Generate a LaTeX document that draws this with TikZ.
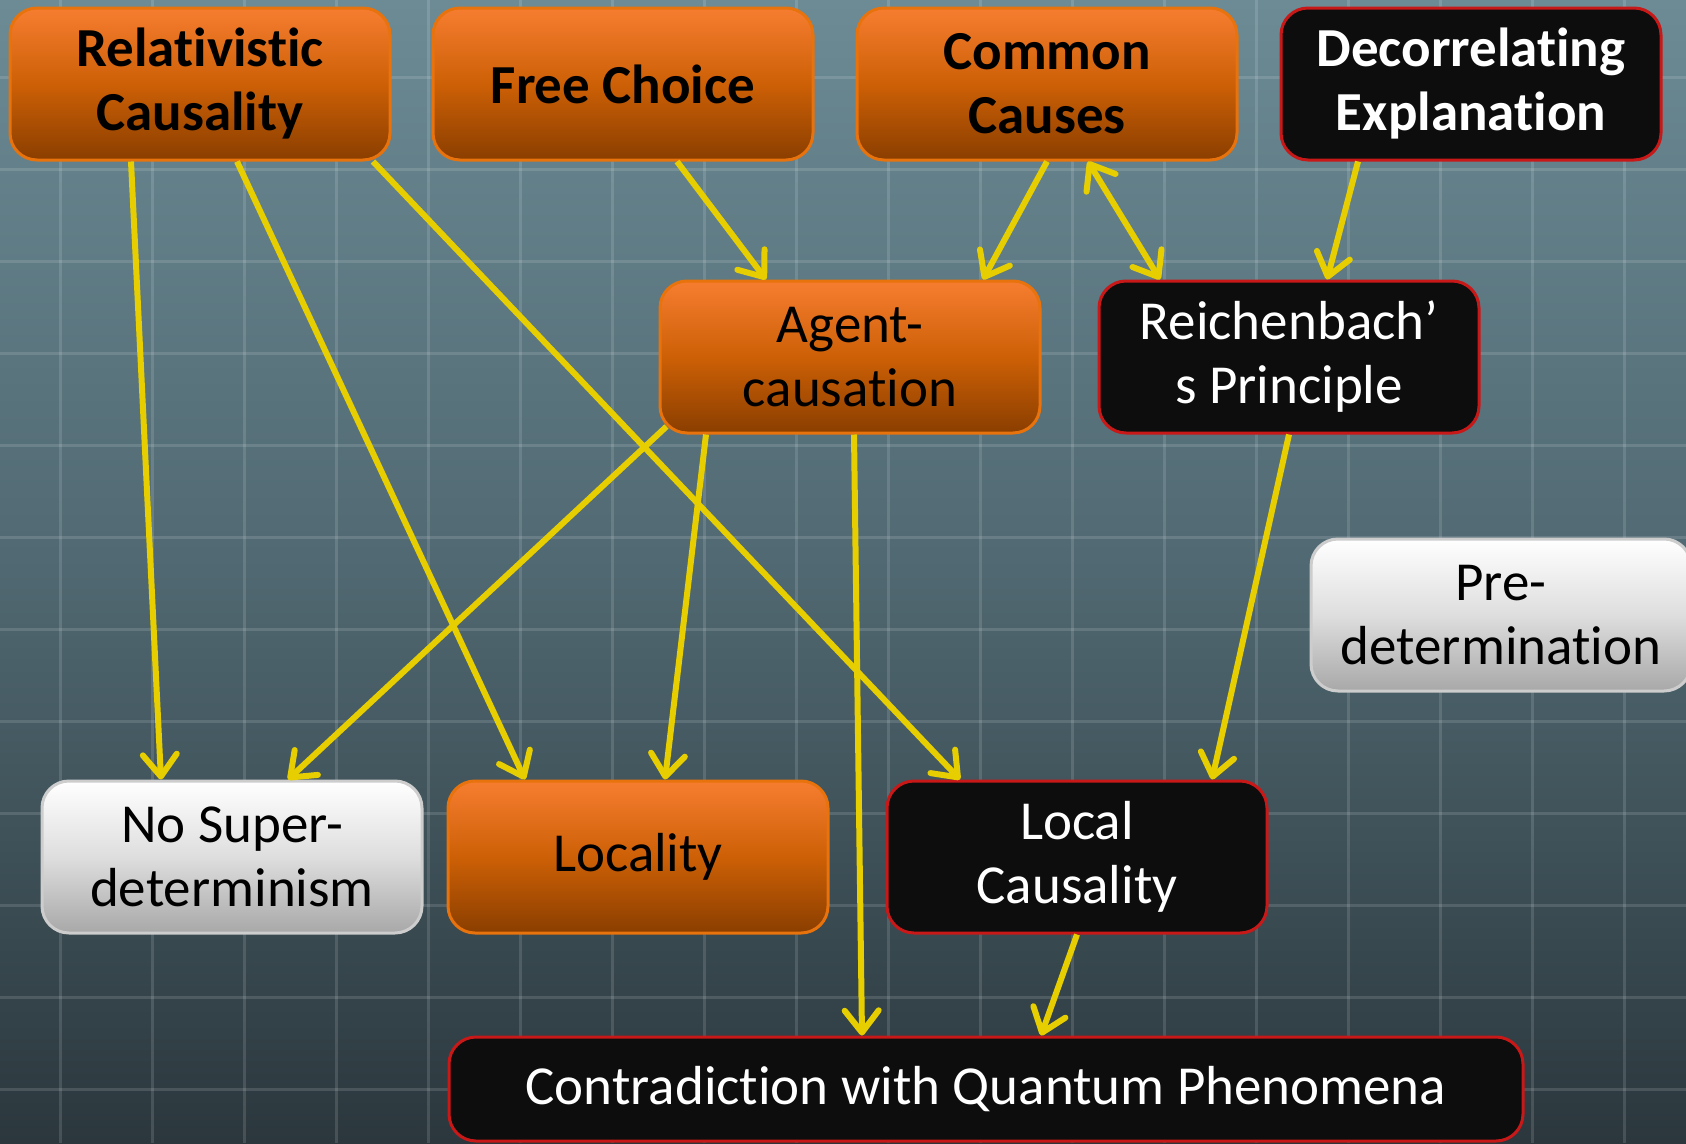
\documentclass[tikz,border=0pt]{standalone}
\usepackage{fontspec}
\setmainfont[Ligatures={NoCommon,NoContextual}]{Carlito}
\usetikzlibrary{arrows.meta}

\definecolor{bgtop}{RGB}{108,139,149}
\definecolor{bgmid}{RGB}{80,104,113}
\definecolor{bgbot}{RGB}{43,55,61}
\definecolor{otop}{RGB}{246,125,48}
\definecolor{omid}{RGB}{205,96,6}
\definecolor{obot}{RGB}{138,62,0}
\definecolor{oborder}{RGB}{232,114,12}
\definecolor{nearblack}{RGB}{13,13,13}
\definecolor{rborder}{RGB}{200,24,24}
\definecolor{wmid}{RGB}{222,222,222}
\definecolor{wbot}{RGB}{168,168,168}
\definecolor{wborder}{RGB}{205,205,205}
\definecolor{arrowyellow}{RGB}{230,206,0}

\tikzset{
  ybarb/.tip={Straight Barb[length=22pt,width=34pt,round]},
  gridline/.style={white, opacity=0.13, line width=3pt},
  box/.style={rounded corners=27pt, minimum width=380pt, minimum height=152pt,
    align=center, line width=3pt, inner sep=0pt,
    font=\fontsize{55}{64}\selectfont},
  heavy/.style={font=\fontsize{55}{64}\selectfont\bfseries},
  orangebox/.style={box, draw=oborder, top color=otop, bottom color=obot, middle color=omid},
  blackbox/.style={box, draw=rborder, fill=nearblack, text=white},
  whitebox/.style={box, draw=wborder, top color=white, bottom color=wbot, middle color=wmid},
  conn/.style={draw=arrowyellow, line width=6pt, -ybarb},
  twoway/.style={draw=arrowyellow, line width=6pt, ybarb-ybarb}
}

\begin{document}
\begin{tikzpicture}[x=1pt, y=-1pt]
  \useasboundingbox (0,0) rectangle (1686,1143);

  % backdrop: vertical gradient with a faint square grid
  \shade[top color=bgtop, bottom color=bgbot, middle color=bgmid] (0,0) rectangle (1686,1143);
  \foreach \gx in {60,152,...,1624} \draw[gridline] (\gx,0) -- (\gx,1143);
  \foreach \gy in {77,169,...,1089} \draw[gridline] (0,\gy) -- (1686,\gy);

  % top row
  \node[orangebox, heavy] (rc) at (200,84)  {Relativistic\\Causality};
  \node[orangebox, heavy] (fc) at (623,84)  {Free Choice};
  \node[orangebox, heavy] (cc) at (1047,84) {Common\\Causes};
  \node[blackbox, heavy]  (de) at (1471,84) {Decorrelating\\Explanation};

  % middle row
  \node[orangebox] (ag) at (850,357)  {Agent-\\causation};
  \node[blackbox]  (rp) at (1289,357) {Reichenbach’\\s Principle};
  \node[whitebox]  (pd) at (1501,615) {Pre-\\determination};

  % lower row
  \node[whitebox]  (ns) at (232,857)  {No Super-\\determinism};
  \node[orangebox] (lo) at (638,857)  {Locality};
  \node[blackbox]  (lc) at (1077,857) {Local\\Causality};

  % bottom
  \node[blackbox, minimum width=1074pt, minimum height=104pt] (qp) at (986,1089)
    {Contradiction with Quantum Phenomena};

  % connectors
  \draw[conn] ([xshift=-69pt]rc.south) -- ([xshift=-71pt]ns.north);
  \draw[conn] ([xshift=37pt]rc.south) -- ([xshift=-113pt]lo.north);
  \draw[conn] ([xshift=173pt]rc.south) -- ([xshift=-117pt]lc.north);
  \draw[conn] ([xshift=54pt]fc.south) -- ([xshift=-84pt]ag.north);
  \draw[conn] (cc.south) -- ([xshift=133pt]ag.north);
  \draw[twoway] ([xshift=41pt]cc.south) -- ([xshift=-129pt]rp.north);
  \draw[conn] ([xshift=-113pt]de.south) -- ([xshift=38pt]rp.north);
  \draw[conn] ([xshift=8pt,yshift=8pt]ag.south west) -- ([xshift=56pt]ns.north);
  \draw[conn] ([xshift=-144pt]ag.south) -- ([xshift=27pt]lo.north);
  \draw[conn] ([xshift=4pt]ag.south) -- ([xshift=-124pt]qp.north);
  \draw[conn] (rp.south) -- ([xshift=135pt]lc.north);
  \draw[conn] (lc.south) -- ([xshift=55pt]qp.north);
\end{tikzpicture}
\end{document}
